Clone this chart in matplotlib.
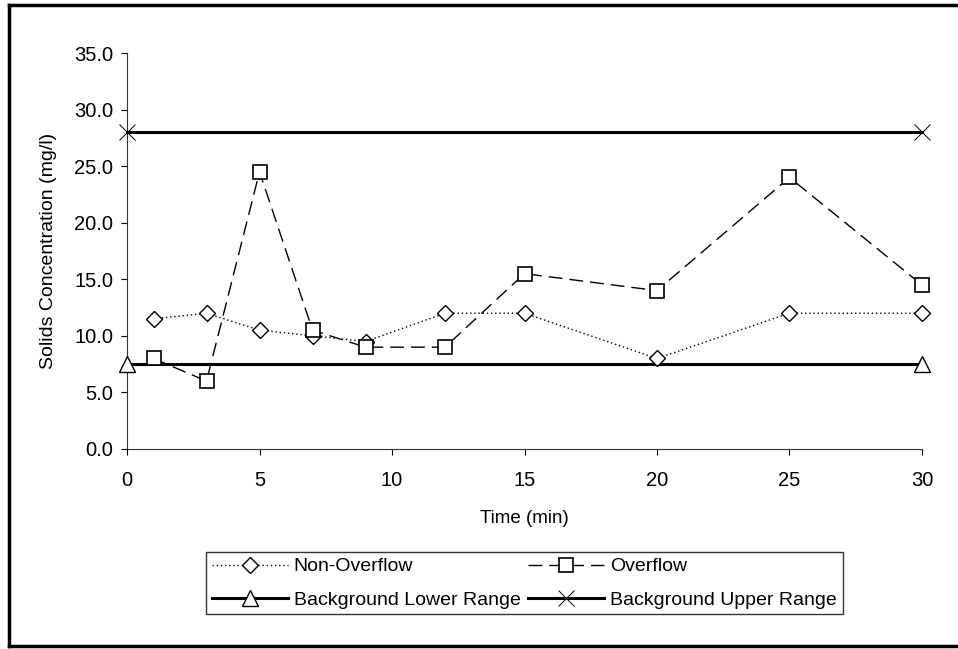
import matplotlib
matplotlib.use("Agg")
import matplotlib.pyplot as plt
from matplotlib.lines import Line2D

plt.rcParams['font.family'] = ['Liberation Sans', 'DejaVu Sans']

# 时间点和浓度
time_pts = [1, 3, 5, 7, 9, 12, 15, 20, 25, 30]
non_overflow = [11.5, 12.0, 10.5, 10.0, 9.5, 12.0, 12.0, 8.0, 12.0, 12.0]
overflow = [8.0, 6.0, 24.5, 10.5, 9.0, 9.0, 15.5, 14.0, 24.0, 14.5]
range_x = [0, 30]
lower_range = [7.5, 7.5]
upper_range = [28.0, 28.0]
y_ticks = [0, 5, 10, 15, 20, 25, 30, 35]
x_ticks = [0, 5, 10, 15, 20, 25, 30]

fig = plt.figure(figsize=(9.58, 6.49), dpi=100)
ax = fig.add_axes([0.1326, 0.3082, 0.9624 - 0.1326, 0.9183 - 0.3082])

l1, = ax.plot(time_pts, non_overflow, linestyle=(0, (1, 2)), color='black', linewidth=1,
              marker='D', markersize=8, markerfacecolor='white', markeredgecolor='black',
              markeredgewidth=1, label='Non-Overflow', clip_on=False, zorder=4)
l2, = ax.plot(time_pts, overflow, linestyle=(0, (10, 5)), color='black', linewidth=1,
              marker='s', markersize=10, markerfacecolor='white', markeredgecolor='black',
              markeredgewidth=1.2, label='Overflow', clip_on=False, zorder=5)
l3, = ax.plot(range_x, lower_range, linestyle='-', color='black', linewidth=2.2,
              marker='^', markersize=11, markerfacecolor='white', markeredgecolor='black',
              markeredgewidth=1, label='Background Lower Range', clip_on=False, zorder=3)
l4, = ax.plot(range_x, upper_range, linestyle='-', color='black', linewidth=2.2,
              marker='x', markersize=11, markeredgecolor='black', markeredgewidth=0.7,
              label='Background Upper Range', clip_on=False, zorder=3)

ax.set_xlim(0, 30)
ax.set_ylim(0, 35)
ax.set_xticks(x_ticks)
ax.set_yticks(y_ticks)
ax.set_yticklabels(['%.1f' % v for v in y_ticks])
ax.tick_params(axis='both', labelsize=14.5, length=4, width=0.8, direction='out')
ax.tick_params(axis='x', pad=12)
ax.tick_params(axis='y', pad=6)
ax.spines['top'].set_visible(False)
ax.spines['right'].set_visible(False)
for s in ['left', 'bottom']:
    ax.spines[s].set_linewidth(0.8)
    ax.spines[s].set_color('#333333')

ax.set_xlabel('Time (min)', fontsize=13.5, labelpad=14)
ax.set_ylabel('Solids Concentration (mg/l)', fontsize=14, labelpad=12)

# 图例按行排列
leg = ax.legend([l1, l3, l2, l4],
                ['Non-Overflow', 'Background Lower Range', 'Overflow', 'Background Upper Range'],
                loc='upper center', bbox_to_anchor=(0.5, -0.26), ncol=2,
                fontsize=14, frameon=True, fancybox=False, edgecolor='black',
                handlelength=3.9, columnspacing=0.4, handletextpad=0.3,
                labelspacing=0.8, borderpad=0.3, borderaxespad=0)
leg.get_frame().set_linewidth(1)

# 外框
fig.add_artist(Line2D([9 / 958, 9 / 958], [3 / 649, 1 - 5 / 649], transform=fig.transFigure,
                      color='black', linewidth=2.5))
fig.add_artist(Line2D([9 / 958, 1], [1 - 5 / 649, 1 - 5 / 649], transform=fig.transFigure,
                      color='black', linewidth=2.5))
fig.add_artist(Line2D([9 / 958, 1], [3 / 649, 3 / 649], transform=fig.transFigure,
                      color='black', linewidth=2.5))

fig.savefig('out.png', dpi=100)
